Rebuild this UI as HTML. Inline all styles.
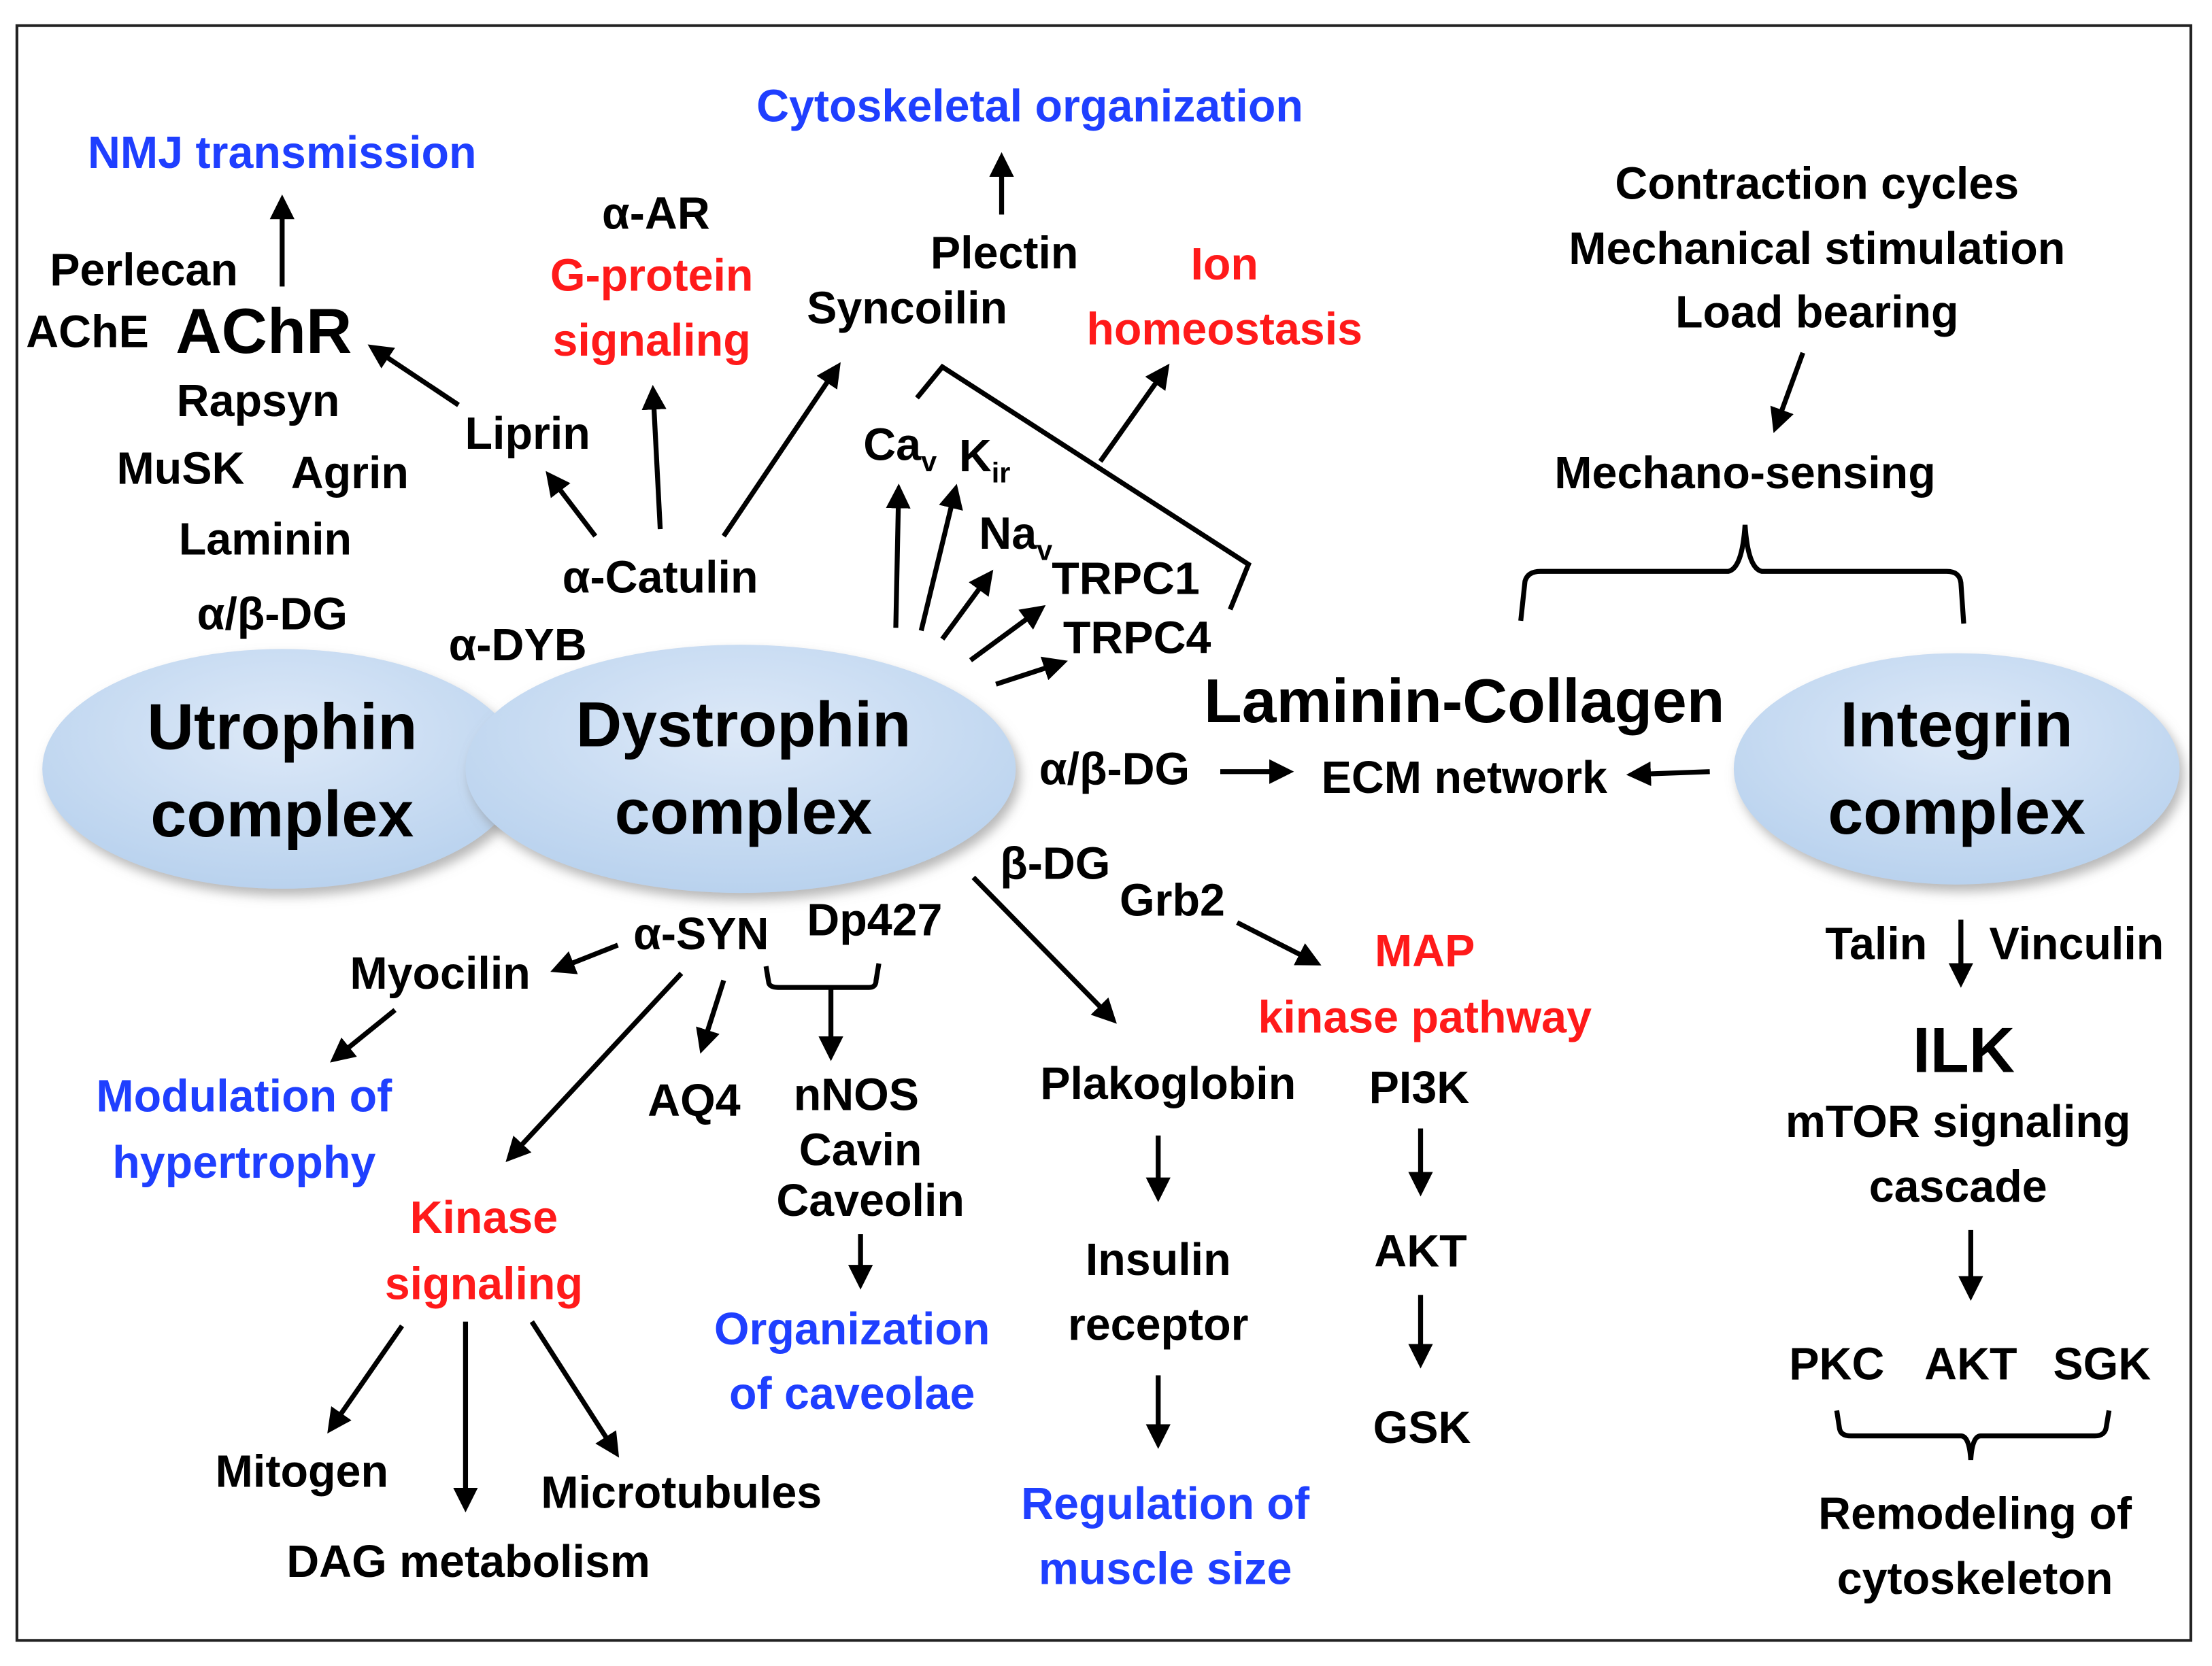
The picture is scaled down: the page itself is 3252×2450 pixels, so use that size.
<!DOCTYPE html>
<html><head><meta charset="utf-8"><style>
html,body{margin:0;padding:0;background:#fff;}
svg{display:block;}
text{font-family:"Liberation Sans",sans-serif;font-weight:bold;text-anchor:middle;font-size:32px;fill:#000;}
.b{fill:#1f3fff;}
.r{fill:#ff1a1a;}
.big{font-size:45px;}
.l{stroke:#000;stroke-width:3.5;fill:none;marker-end:url(#ah);}
.k{stroke:#000;stroke-width:3.5;fill:none;}
</style></head><body>
<svg width="3252" height="2450" viewBox="0 0 1568 1181" xmlns="http://www.w3.org/2000/svg">
<defs>
<marker id="ah" markerWidth="5" markerHeight="5" refX="3.5" refY="2.5" orient="auto" markerUnits="strokeWidth">
<path d="M0,0 L5,2.5 L0,5 z" fill="#000"/></marker>
<radialGradient id="g" cx="50%" cy="35%" r="65%"><stop offset="0" stop-color="#dde9f8"/><stop offset="1" stop-color="#b9d2ee"/></radialGradient>
<filter id="sh" x="-10%" y="-10%" width="130%" height="140%"><feDropShadow dx="3" dy="5" stdDeviation="4" flood-color="#888" flood-opacity="0.6"/></filter>
</defs>
<rect x="12" y="18" width="1541" height="1145" fill="#fff" stroke="#222" stroke-width="2"/>
<ellipse cx="200" cy="545" rx="170" ry="85" fill="url(#g)" filter="url(#sh)"/>
<ellipse cx="525" cy="545" rx="195" ry="88" fill="url(#g)" filter="url(#sh)"/>
<ellipse cx="1387" cy="545" rx="158" ry="82" fill="url(#g)" filter="url(#sh)"/>

<text class="big" x="200" y="531" style="font-size:46px">Utrophin</text><text class="big" x="200" y="593" style="font-size:46px">complex</text>
<text class="big" x="527" y="529">Dystrophin</text><text class="big" x="527" y="591">complex</text>
<text class="big" x="1387" y="529">Integrin</text><text class="big" x="1387" y="591">complex</text>

<text class="b" x="200" y="119">NMJ transmission</text>
<text class="b" x="730" y="86">Cytoskeletal organization</text>
<text x="1288" y="141">Contraction cycles</text>
<text x="1288" y="187">Mechanical stimulation</text>
<text x="1288" y="232">Load bearing</text>
<text x="102" y="202">Perlecan</text>
<text x="62" y="246">AChE</text>
<text class="big" x="187" y="250">AChR</text>
<text x="183" y="295">Rapsyn</text>
<text x="128" y="343">MuSK</text>
<text x="248" y="346">Agrin</text>
<text x="188" y="393">Laminin</text>
<text x="193" y="446">α/β-DG</text>
<text x="465" y="162">α-AR</text>
<text class="r" x="462" y="206">G-protein</text>
<text class="r" x="462" y="252">signaling</text>
<text x="712" y="190">Plectin</text>
<text x="643" y="229">Syncoilin</text>
<text class="r" x="868" y="198">Ion</text>
<text class="r" x="868" y="244">homeostasis</text>
<text x="374" y="318">Liprin</text>
<text x="468" y="420">α-Catulin</text>
<text x="367" y="468">α-DYB</text>
<text x="638" y="326">Ca<tspan font-size="20" dy="8">v</tspan></text>
<text x="698" y="334">K<tspan font-size="20" dy="8">ir</tspan></text>
<text x="720" y="389">Na<tspan font-size="20" dy="8">v</tspan></text>
<text x="798" y="421">TRPC1</text>
<text x="806" y="463">TRPC4</text>
<text x="1237" y="346">Mechano-sensing</text>
<text class="big" x="1038" y="512" style="font-size:44px">Laminin-Collagen</text>
<text x="790" y="556">α/β-DG</text>
<text x="1038" y="562">ECM network</text>
<text x="748" y="623">β-DG</text>
<text x="831" y="649">Grb2</text>
<text class="r" x="1010" y="685">MAP</text>
<text class="r" x="1010" y="732">kinase pathway</text>
<text x="497" y="673">α-SYN</text>
<text x="620" y="663">Dp427</text>
<text x="312" y="701">Myocilin</text>
<text x="1330" y="680">Talin</text>
<text x="1472" y="680">Vinculin</text>
<text class="big" x="1392" y="760">ILK</text>
<text x="1388" y="806">mTOR signaling</text>
<text x="1388" y="852">cascade</text>
<text class="b" x="173" y="788">Modulation of</text>
<text class="b" x="173" y="835">hypertrophy</text>
<text x="492" y="791">AQ4</text>
<text x="607" y="787">nNOS</text>
<text x="610" y="826">Cavin</text>
<text x="617" y="862">Caveolin</text>
<text x="828" y="779">Plakoglobin</text>
<text x="1006" y="782">PI3K</text>
<text class="r" x="343" y="874">Kinase</text>
<text class="r" x="343" y="921">signaling</text>
<text class="b" x="604" y="953">Organization</text>
<text class="b" x="604" y="999">of caveolae</text>
<text x="821" y="904">Insulin</text>
<text x="821" y="950">receptor</text>
<text x="1007" y="898">AKT</text>
<text x="1008" y="1023">GSK</text>
<text x="1302" y="978">PKC</text>
<text x="1397" y="978">AKT</text>
<text x="1490" y="978">SGK</text>
<text x="214" y="1054">Mitogen</text>
<text x="483" y="1069">Microtubules</text>
<text x="332" y="1118">DAG metabolism</text>
<text class="b" x="826" y="1077">Regulation of</text>
<text class="b" x="826" y="1123">muscle size</text>
<text x="1400" y="1084">Remodeling of</text>
<text x="1400" y="1130">cytoskeleton</text>

<path class="l" d="M200,203 L200,143"/>
<path class="l" d="M325,287 L265,247"/>
<path class="l" d="M422,380 L390,338"/>
<path class="l" d="M468,375 L463,278"/>
<path class="l" d="M513,380 L593,261"/>
<path class="l" d="M710,152 L710,113"/>
<path class="l" d="M635,445 L637,348"/>
<path class="l" d="M653,447 L677,348"/>
<path class="l" d="M668,453 L701,408"/>
<path class="l" d="M688,468 L737,432"/>
<path class="l" d="M706,485 L752,470"/>
<path class="l" d="M1278,250 L1259,302"/>
<path class="l" d="M865,547 L912,547"/>
<path class="l" d="M1212,547 L1158,549"/>
<path class="l" d="M438,670 L395,687"/>
<path class="l" d="M280,716 L238,750"/>
<path class="l" d="M483,690 L362,820"/>
<path class="l" d="M513,695 L498,742"/>
<path class="l" d="M589,700 L589,747"/>
<path class="l" d="M690,622 L788,722"/>
<path class="l" d="M877,654 L932,682"/>
<path class="l" d="M1390,652 L1390,695"/>
<path class="l" d="M1397,872 L1397,917"/>
<path class="l" d="M821,805 L821,847"/>
<path class="l" d="M821,975 L821,1022"/>
<path class="l" d="M1007,800 L1007,843"/>
<path class="l" d="M1007,918 L1007,965"/>
<path class="l" d="M610,875 L610,909"/>
<path class="l" d="M285,940 L235,1012"/>
<path class="l" d="M330,937 L330,1067"/>
<path class="l" d="M377,937 L436,1029"/>
<path class="l" d="M780,327 L826,262"/>

<path class="k" d="M650,282 L668,260 L885,400 L872,432"/>
<path class="k" d="M1078,440 L1081,412 Q1083,405 1092,405 L1225,405 Q1235,403 1237,372 Q1239,403 1249,405 L1380,405 Q1389,405 1390,413 L1392,442"/>
<path class="k" d="M543,685 L545,697 Q546,700 552,700 L616,700 Q621,700 621,695 L623,683"/>
<path class="k" d="M1302,1000 L1304,1013 Q1305,1018 1312,1018 L1390,1018 Q1396,1018 1397,1035 Q1398,1018 1404,1018 L1485,1018 Q1492,1018 1493,1012 L1495,1000"/>
</svg>
</body></html>
